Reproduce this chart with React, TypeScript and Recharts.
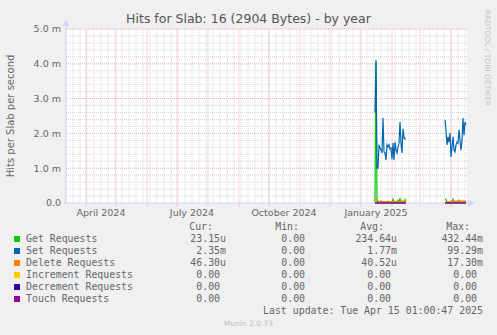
import React from 'react';
import {
  CartesianGrid,
  Line,
  LineChart,
  ReferenceDot,
  ReferenceLine,
  XAxis,
  YAxis,
} from 'recharts';

// graph starts 2024-03-12, one point per day, values in milli-hits/s
const START = Date.UTC(2024, 2, 12);
const dayOf = (y: number, m: number, d: number) => Math.round((Date.UTC(y, m, d) - START) / 86400000);
const LAST_DAY = 401;

const SEG1_START = dayOf(2025, 0, 15);
const SEG2_START = dayOf(2025, 2, 26);

const GET_SEG1 = [0.02, 4.05, 0.03, 0.05, 0.02, 0.03, 0.06, 0.02, 0.03, 0.02, 0.04, 0.02, 0.03, 0.05, 0.02, 0.03, 0.02, 0.04, 0.11, 0.03, 0.02, 0.04, 0.02, 0.08, 0.03, 0.12, 0.03, 0.02, 0.04, 0.03, 0.1, 0.04];
const SET_SEG1 = [2.6, 4.1, 1.0, 1.0, 1.67, 1.58, 1.52, 1.44, 2.44, 1.47, 1.44, 1.24, 1.67, 1.61, 1.67, 1.55, 1.58, 1.26, 1.72, 1.24, 1.75, 1.52, 1.44, 1.61, 1.72, 2.33, 1.72, 1.44, 2.13, 1.87, 1.84, 1.84];
const DEL_SEG1 = [0.1, 0.12, 0.09, 0.06, 0.04, 0.04, 0.03, 0.04, 0.04, 0.03, 0.04, 0.04, 0.03, 0.04, 0.04, 0.03, 0.04, 0.04, 0.03, 0.04, 0.04, 0.03, 0.04, 0.04, 0.03, 0.04, 0.04, 0.05, 0.04, 0.07, 0.07, 0.05];

const GET_SEG2 = [0.12, 0.1, 0.02, 0.03, 0.02, 0.03, 0.02, 0.03, 0.11, 0.03, 0.02, 0.03, 0.02, 0.03, 0.04, 0.02, 0.03, 0.02, 0.04, 0.03, 0.02, 0.03];
const SET_SEG2 = [2.39, 2.1, 1.67, 1.9, 1.75, 2.01, 1.32, 1.61, 1.9, 1.52, 1.47, 1.67, 1.75, 1.72, 2.1, 1.81, 1.52, 1.81, 2.44, 1.95, 2.33, 2.24];
const DEL_SEG2 = [0.02, 0.02, 0.03, 0.02, 0.03, 0.02, 0.03, 0.06, 0.05, 0.05, 0.06, 0.05, 0.06, 0.05, 0.09, 0.06, 0.05, 0.06, 0.05, 0.06, 0.05, 0.06];

const SERIES = ['Get Requests', 'Set Requests', 'Delete Requests', 'Increment Requests', 'Decrement Requests', 'Touch Requests'];
const KEYS = ['get', 'set', 'del', 'inc', 'dec', 'touch'];
const COLORS = ['#00cc00', '#0066b3', '#ff8000', '#ffcc00', '#330099', '#990099'];
const CUR = ['23.15u', ' 2.35m', '46.30u', ' 0.00 ', ' 0.00 ', ' 0.00 '];
const MIN = ['0.00 ', '0.00 ', '0.00 ', '0.00 ', '0.00 ', '0.00 '];
const AVG = ['234.64u', '1.77m', '40.52u', '0.00 ', '0.00 ', '0.00 '];
const MAX = ['432.44m', '99.29m', '17.30m', '0.00 ', '0.00 ', '0.00 '];

const Y_TICKS = [0, 1, 2, 3, 4, 5];
const MONTHS: [number, number][] = [
  [2024, 3], [2024, 4], [2024, 5], [2024, 6], [2024, 7], [2024, 8], [2024, 9],
  [2024, 10], [2024, 11], [2025, 0], [2025, 1], [2025, 2], [2025, 3],
];
const LABEL_MONTHS: [number, number, string][] = [
  [2024, 3, 'April 2024'],
  [2024, 6, 'July 2024'],
  [2024, 9, 'October 2024'],
  [2025, 0, 'January 2025'],
];

const monthDays = MONTHS.map(([y, m]) => dayOf(y, m, 1));
const labelTicks = LABEL_MONTHS.map(([y, m]) => dayOf(y, m, 16));
const labelText: Record<number, string> = {};
LABEL_MONTHS.forEach(([y, m, t]) => { labelText[dayOf(y, m, 16)] = t; });
const weekDays: number[] = [];
for (let d = 0; d <= LAST_DAY; d += 7) weekDays.push(d);
const minorY: number[] = [];
for (let i = 1; i < 25; i++) if (i % 5 !== 0) minorY.push(i / 5);

const data = Array.from({ length: LAST_DAY + 1 }, (_, day) => {
  const row: Record<string, number | null> = { day, get: null, set: null, del: null, inc: null, dec: null, touch: null };
  const fill = (start: number, g: number[], s: number[], dl: number[]) => {
    const i = day - start;
    if (i >= 0 && i < s.length) {
      row.get = g[i]; row.set = s[i]; row.del = dl[i];
      row.inc = 0; row.dec = 0; row.touch = 0;
    }
  };
  fill(SEG1_START, GET_SEG1, SET_SEG1, DEL_SEG1);
  fill(SEG2_START, GET_SEG2, SET_SEG2, DEL_SEG2);
  return row;
});

const FONT = 'DejaVu Sans, sans-serif';
const MONO = 'DejaVu Sans Mono, monospace';
const TEXT = '#666666';
const AXIS = '#cfd6f8';
const GRID = '#d6d6d6';
const MGRID = '#eeaaaa';

const upArrow = (p: any) => (
  <path d={`M${p.cx - 3.5},${p.cy} L${p.cx + 3.5},${p.cy} L${p.cx},${p.cy - 6} Z`} fill={AXIS} />
);
const rightArrow = (p: any) => (
  <path d={`M${p.cx},${p.cy - 3.5} L${p.cx},${p.cy + 3.5} L${p.cx + 7},${p.cy} Z`} fill={AXIS} />
);

const abs = (top: number, extra: React.CSSProperties = {}): React.CSSProperties => ({
  position: 'absolute', top, lineHeight: '12px', whiteSpace: 'pre', ...extra,
});

export default function App() {
  const rowTop = (i: number) => 233 + i * 12;
  const col = (right: number, text: string, top: number, key: string) => (
    <div key={key} style={abs(top, { left: 0, width: right, textAlign: 'right', fontFamily: MONO, fontSize: 9.9, color: TEXT })}>{text}</div>
  );
  return (
    <div style={{ position: 'fixed', left: 0, top: 0, width: 497, height: 335, background: '#f0f0f0', overflow: 'hidden' }}>
      <div style={abs(13, { left: 0, width: 497, textAlign: 'center', fontFamily: FONT, fontSize: 12.5, color: '#555' })}>
        Hits for Slab: 16 (2904 Bytes) - by year
      </div>
      <div style={{ position: 'absolute', left: 10, top: 116, transform: 'translate(-50%, -50%) rotate(-90deg)', whiteSpace: 'nowrap', fontFamily: FONT, fontSize: 10, color: TEXT }}>
        Hits per Slab per second
      </div>
      <div style={{ position: 'absolute', left: 487, top: 58, transform: 'translate(-50%, -50%) rotate(90deg)', whiteSpace: 'nowrap', fontFamily: FONT, fontSize: 7.5, color: '#c4c4c4' }}>
        RRDTOOL / TOBI OETIKER
      </div>
      <div style={{ position: 'absolute', left: 0, top: 0 }}>
        <LineChart width={497} height={335} data={data} margin={{ top: 29, right: 30, bottom: 112, left: 0 }}>
          <CartesianGrid fill="#ffffff" horizontal={false} vertical={false} />
          <XAxis
            dataKey="day"
            type="number"
            domain={[0, LAST_DAY]}
            ticks={labelTicks}
            tickFormatter={(d) => labelText[d as number] ?? ''}
            interval={0}
            height={20}
            axisLine={false}
            tickLine={false}
            tickSize={5}
            tickMargin={1}
            tick={{ fontSize: 9.5, fill: TEXT, fontFamily: FONT }}
          />
          <YAxis
            type="number"
            domain={[0, 5]}
            ticks={Y_TICKS}
            tickFormatter={(v) => (v === 0 ? '0.0' : `${(v as number).toFixed(1)} m`)}
            width={66}
            axisLine={false}
            tickLine={false}
            tickSize={3}
            tickMargin={2}
            tick={{ fontSize: 9.5, fill: TEXT, fontFamily: FONT }}
          />
          {minorY.map((v) => (
            <ReferenceLine key={`hy${v}`} y={v} stroke={GRID} strokeDasharray="1 1" strokeWidth={1} />
          ))}
          {weekDays.map((d) => (
            <ReferenceLine key={`vx${d}`} x={d} stroke={GRID} strokeDasharray="1 1" strokeWidth={1} />
          ))}
          {Y_TICKS.slice(1).map((v) => (
            <ReferenceLine key={`my${v}`} y={v} stroke={MGRID} strokeDasharray="1 1" strokeWidth={1} />
          ))}
          {monthDays.map((d) => (
            <ReferenceLine
              key={`mx${d}`}
              segment={[{ x: d, y: -0.1 }, { x: d, y: 5 }]}
              ifOverflow="visible"
              stroke={MGRID}
              strokeDasharray="1 1"
              strokeWidth={1}
            />
          ))}
          <ReferenceLine segment={[{ x: 0, y: 0 }, { x: 0, y: 5.09 }]} ifOverflow="visible" stroke={AXIS} />
          <ReferenceLine segment={[{ x: -2, y: 0 }, { x: 402, y: 0 }]} ifOverflow="visible" stroke={AXIS} />
          <ReferenceDot x={0} y={5.09} ifOverflow="visible" shape={upArrow} />
          <ReferenceDot x={402} y={0} ifOverflow="visible" shape={rightArrow} />
          {KEYS.map((k, i) => (
            <Line
              key={k}
              type="linear"
              dataKey={k}
              stroke={COLORS[i]}
              strokeWidth={1.2}
              dot={false}
              activeDot={false}
              connectNulls={false}
              isAnimationActive={false}
            />
          ))}
        </LineChart>
      </div>
      {col(213, 'Cur:', 221, 'hc')}
      {col(299, 'Min:', 221, 'hn')}
      {col(384, 'Avg:', 221, 'ha')}
      {col(470, 'Max:', 221, 'hm')}
      {SERIES.map((name, i) => (
        <React.Fragment key={name}>
          <div style={{ position: 'absolute', left: 14, top: rowTop(i) + 3, width: 6, height: 6, background: COLORS[i] }} />
          <div style={abs(rowTop(i), { left: 26, fontFamily: MONO, fontSize: 9.9, color: TEXT })}>{name}</div>
          {col(226, CUR[i], rowTop(i), `c${i}`)}
          {col(311, MIN[i], rowTop(i), `n${i}`)}
          {col(397, AVG[i], rowTop(i), `a${i}`)}
          {col(483, MAX[i], rowTop(i), `m${i}`)}
        </React.Fragment>
      ))}
      {col(483, 'Last update: Tue Apr 15 01:00:47 2025', 305, 'lu')}
      <div style={abs(318, { left: 0, width: 497, textAlign: 'center', fontFamily: FONT, fontSize: 7.5, color: '#c0c0c0' })}>
        Munin 2.0.73
      </div>
    </div>
  );
}
